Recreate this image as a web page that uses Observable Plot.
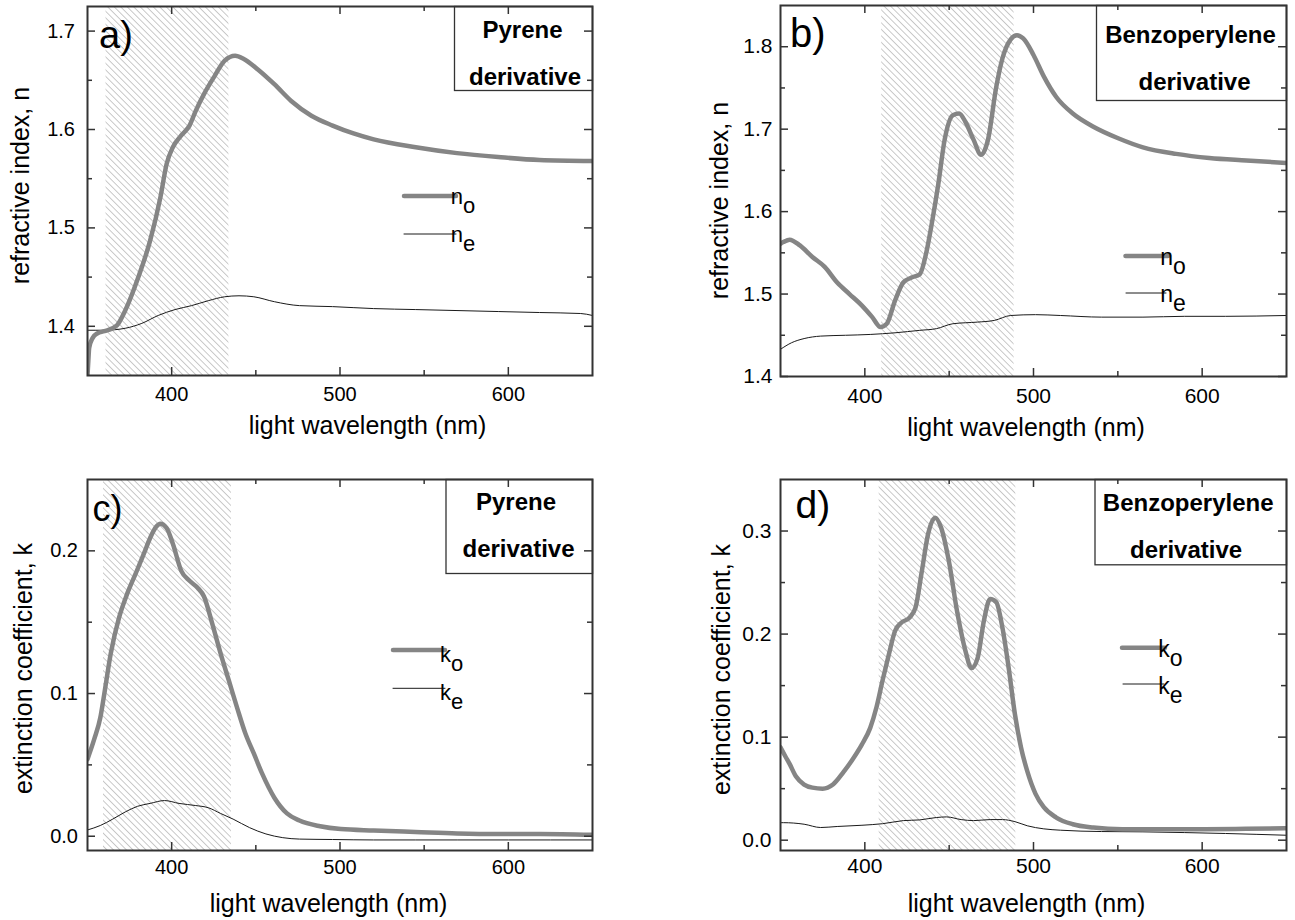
<!DOCTYPE html>
<html><head><meta charset="utf-8">
<script src="https://cdn.jsdelivr.net/npm/d3@7"></script>
<script src="https://cdn.jsdelivr.net/npm/@observablehq/plot@0.6"></script>
<style>
html,body{margin:0;padding:0;background:#fff;}
#root{position:relative;width:1295px;height:920px;overflow:hidden;font-family:"Liberation Sans",Arial,sans-serif;}
</style></head><body><div id="root"></div>
<script>
// ---------------- data ----------------
const xMajor = [400, 500, 600];
const xMinor = [450, 550];

// a) Pyrene derivative, refractive index
const aNoWl = [350, 350.5, 351, 353, 356, 360, 367.5, 372.4, 379.8, 387.2, 393.3, 397, 400.7, 405.7, 410.6, 414.3, 419.2, 425.4, 431.5, 437.7, 442.6, 451.2, 461, 471, 483, 495.6, 508, 520, 545, 569.5, 594, 618.5, 650];
const aNo = [1.35, 1.365, 1.378, 1.388, 1.393, 1.395, 1.401, 1.416, 1.448, 1.487, 1.531, 1.565, 1.582, 1.594, 1.604, 1.619, 1.636, 1.654, 1.670, 1.675, 1.672, 1.661, 1.646, 1.629, 1.614, 1.604, 1.596, 1.590, 1.582, 1.576, 1.572, 1.569, 1.568];
const aNeWl = [350, 360, 372.4, 382.3, 392, 402, 411.8, 421.7, 431.5, 440, 448.8, 461, 475.9, 495.6, 520, 545, 569.5, 594, 618.5, 643, 650];
const aNe = [1.396, 1.396, 1.398, 1.403, 1.411, 1.417, 1.421, 1.426, 1.430, 1.431, 1.430, 1.425, 1.421, 1.420, 1.418, 1.417, 1.416, 1.415, 1.414, 1.413, 1.411];

// b) Benzoperylene derivative, refractive index
const bNoWl = [350, 351.7, 355.4, 361.5, 368.9, 376.2, 383.6, 390.9, 398.3, 404.4, 409.3, 413, 417.9, 422.8, 427.7, 432.6, 436.3, 440, 443.6, 447.3, 452.2, 455.9, 459.6, 464.5, 468.9, 473, 477.9, 481.6, 486.5, 490.2, 493.9, 500, 506.1, 513.5, 523.3, 535.5, 550.2, 564.9, 584.6, 604.2, 626.2, 650];
const bNo = [1.561, 1.563, 1.566, 1.559, 1.545, 1.533, 1.514, 1.500, 1.486, 1.472, 1.460, 1.464, 1.492, 1.514, 1.520, 1.524, 1.549, 1.589, 1.634, 1.687, 1.717, 1.719, 1.709, 1.687, 1.669, 1.687, 1.751, 1.786, 1.809, 1.814, 1.810, 1.790, 1.764, 1.739, 1.719, 1.703, 1.689, 1.678, 1.670, 1.665, 1.662, 1.659];
const bNeWl = [350, 356.6, 364, 373.8, 388.5, 403.2, 417.9, 432.6, 442.4, 452.2, 466.9, 476.7, 486.5, 501.2, 515.9, 540.4, 564.9, 589.4, 613.9, 650];
const bNe = [1.433, 1.441, 1.446, 1.449, 1.450, 1.451, 1.453, 1.456, 1.458, 1.464, 1.466, 1.468, 1.474, 1.475, 1.474, 1.472, 1.472, 1.473, 1.473, 1.474];

// c) Pyrene derivative, extinction coefficient
const cKoWl = [350, 354, 357.6, 360, 363.8, 368.7, 373.6, 378.6, 383.5, 387.2, 390.9, 393.3, 397, 400.7, 405.7, 410.6, 415.5, 419.2, 424.1, 429.1, 434, 438.9, 443.8, 448.8, 453.7, 461, 468.5, 475.9, 488.2, 500.5, 520, 544.8, 569.5, 594, 618.7, 650];
const cKo = [0.054, 0.068, 0.083, 0.100, 0.128, 0.153, 0.170, 0.184, 0.198, 0.209, 0.217, 0.219, 0.216, 0.205, 0.186, 0.179, 0.174, 0.168, 0.149, 0.128, 0.109, 0.090, 0.072, 0.058, 0.044, 0.027, 0.016, 0.011, 0.007, 0.005, 0.004, 0.003, 0.002, 0.0016, 0.0016, 0.001];
const cKeWl = [350, 357.6, 365, 372.4, 379.8, 387.2, 395.8, 404.4, 414.3, 421.7, 429, 436.5, 446.3, 456, 466, 475.9, 495.6, 520, 545, 570, 600, 650];
const cKe = [0.0044, 0.0075, 0.012, 0.017, 0.021, 0.023, 0.025, 0.023, 0.0215, 0.020, 0.016, 0.012, 0.006, 0.0016, -0.001, -0.002, -0.0023, -0.0026, -0.0026, -0.0026, -0.0026, -0.0026];

// d) Benzoperylene derivative, extinction coefficient
const dKoWl = [350, 353, 355.4, 359.1, 364, 368.9, 375, 381.1, 387.3, 393.4, 398.3, 403.2, 406.9, 410.5, 414.2, 417.9, 421.6, 426.5, 430.1, 433.8, 437.5, 441.7, 445.3, 449.8, 454.7, 459.6, 463.2, 466.9, 470.6, 474.3, 477.9, 481.6, 485.3, 489, 492.6, 496.3, 501.2, 506.1, 513.5, 523.3, 535.5, 552.7, 577.2, 601.7, 626.2, 650];
const dKo = [0.090, 0.081, 0.074, 0.062, 0.054, 0.051, 0.050, 0.054, 0.066, 0.080, 0.093, 0.109, 0.129, 0.155, 0.180, 0.203, 0.211, 0.216, 0.226, 0.261, 0.297, 0.313, 0.303, 0.271, 0.222, 0.184, 0.167, 0.177, 0.213, 0.234, 0.231, 0.206, 0.167, 0.122, 0.090, 0.067, 0.045, 0.032, 0.022, 0.0155, 0.0123, 0.0107, 0.0107, 0.0107, 0.011, 0.0116];
const dKeWl = [350, 351.7, 364, 373.8, 383.6, 398.3, 410.5, 422.8, 432.6, 442.4, 448.5, 457.1, 464.5, 474.3, 481.6, 489, 496.3, 506.1, 515.9, 540.4, 564.9, 589.4, 613.9, 650];
const dKe = [0.017, 0.017, 0.0155, 0.0123, 0.0133, 0.0145, 0.016, 0.019, 0.0197, 0.022, 0.0226, 0.020, 0.019, 0.020, 0.020, 0.018, 0.014, 0.011, 0.0097, 0.0084, 0.0081, 0.0074, 0.0065, 0.0048];

// hatched (absorption) bands, nm
const hatchA = [361, 434];
const hatchB = [410, 488.5];
const hatchC = [359.5, 435.5];
const hatchD = [408.5, 489.5];

// texts
const xTitle = "light wavelength (nm)";
const yTitleN = "refractive index, n";
const yTitleK = "extinction coefficient, k";
const tags = ["a)", "b)", "c)", "d)"];
const boxLinesPyrene = ["Pyrene", "derivative"];
const boxLinesBenzo = ["Benzoperylene", "derivative"];
const legendN = [["n", "o"], ["n", "e"]];
const legendK = [["k", "o"], ["k", "e"]];

// ---------------- drawing ----------------
const FONT = '"Liberation Sans", Arial, sans-serif';
const root = document.getElementById("root");

function panel(p) {
  const fw = p.width - p.ml - p.mr, fh = p.height - p.mt - p.mb;
  const tk = {stroke: "#333", strokeWidth: 1.5};
  const hid = "hatch-" + p.id;
  const marks = [
    Plot.rect([p.hatch], {x1: d => d[0], x2: d => d[1], fill: `url(#${hid})`}),
    Plot.line(d3.zip(p.thinX, p.thinY), {x: d => d[0], y: d => d[1], stroke: "#1a1a1a", strokeWidth: 1, curve: "monotone-x", clip: true}),
    Plot.line(d3.zip(p.thickX, p.thickY), {x: d => d[0], y: d => d[1], stroke: "#858585", strokeWidth: 4.5, curve: "monotone-x", clip: true}),
    Plot.tickX(xMajor, {x: d => d, insetTop: fh - 8, ...tk}),
    Plot.tickX(xMajor, {x: d => d, insetBottom: fh - 8, ...tk}),
    Plot.tickX(xMinor, {x: d => d, insetTop: fh - 5, ...tk}),
    Plot.tickX(xMinor, {x: d => d, insetBottom: fh - 5, ...tk}),
    Plot.tickY(p.yMajor, {y: d => d, insetRight: fw - 8, ...tk}),
    Plot.tickY(p.yMajor, {y: d => d, insetLeft: fw - 8, ...tk}),
    Plot.tickY(p.yMinor, {y: d => d, insetRight: fw - 5, ...tk}),
    Plot.tickY(p.yMinor, {y: d => d, insetLeft: fw - 5, ...tk}),
    Plot.axisX({ticks: xMajor, tickSize: 0, tickPadding: p.xPad, fontSize: p.tickFont, tickFormat: d => String(d), label: null}),
    Plot.axisY({ticks: p.yMajor, tickSize: 0, tickPadding: p.yPad, fontSize: p.tickFont, tickFormat: d3.format(".1f"), label: null}),
    Plot.frame({stroke: "#333", strokeWidth: 2}),
    Plot.frame({insetLeft: p.boxL, insetBottom: p.boxB, stroke: "#333", strokeWidth: 1.3}),
    Plot.text([xTitle], {text: d => d, frameAnchor: "bottom", textAnchor: "middle", dx: p.xtDx, dy: p.xtDy, fontSize: 25, lineAnchor: "middle", fill: "#000"}),
    Plot.text([p.yTitle], {text: d => d, frameAnchor: "left", textAnchor: "middle", rotate: -90, dx: p.ytDx, dy: p.ytDy, fontSize: 25, lineAnchor: "middle", fill: "#000"}),
    Plot.text([p.tag], {text: d => d, frameAnchor: "top-left", textAnchor: "start", lineAnchor: "bottom", dx: p.tagDx, dy: p.tagDy, fontSize: p.tagFont, fill: "#000"}),
    Plot.text([p.box[0]], {text: d => d, frameAnchor: "top-right", textAnchor: "middle", lineAnchor: "middle", dx: p.b1[0], dy: p.b1[1], fontSize: 24, fontWeight: "bold", fill: "#000"}),
    Plot.text([p.box[1]], {text: d => d, frameAnchor: "top-right", textAnchor: "middle", lineAnchor: "middle", dx: p.b2[0], dy: p.b2[1], fontSize: 24, fontWeight: "bold", fill: "#000"})
  ];
  const svg = Plot.plot({
    width: p.width, height: p.height,
    marginLeft: p.ml, marginRight: p.mr, marginTop: p.mt, marginBottom: p.mb,
    x: {domain: [350, 650]},
    y: {domain: p.yDomain},
    style: {fontFamily: FONT, background: "transparent", color: "#000", overflow: "visible"},
    marks
  });
  // hatch pattern
  const s = d3.select(svg);
  const defs = s.insert("defs", ":first-child");
  const pat = defs.append("pattern").attr("id", hid).attr("patternUnits", "userSpaceOnUse")
    .attr("width", 4.6).attr("height", 4.6).attr("patternTransform", "rotate(-45)");
  pat.append("line").attr("x1", 2.3).attr("x2", 2.3).attr("y1", -1).attr("y2", 5.6)
    .attr("stroke", "#c4c4c4").attr("stroke-width", 0.9);
  // legend
  const lg = s.append("g").attr("font-family", FONT).attr("fill", "#000");
  p.legend.forEach((it, i) => {
    const L = p.leg[i];
    lg.append("line").attr("x1", L.x1).attr("x2", L.x2).attr("y1", L.y).attr("y2", L.y)
      .attr("stroke", i === 0 ? "#858585" : "#1a1a1a").attr("stroke-width", i === 0 ? 4.5 : 1)
      .attr("stroke-linecap", "round");
    const t = lg.append("text").attr("x", L.tx).attr("y", L.ty).attr("font-size", p.legFont);
    t.append("tspan").text(it[0]);
    t.append("tspan").attr("dy", 9).text(it[1]);
  });
  svg.style.position = "absolute";
  svg.style.left = p.left + "px";
  svg.style.top = p.top + "px";
  root.appendChild(svg);
}

panel({
  id: "a", left: 0, top: 0, width: 647, height: 460, ml: 87, mr: 55, mt: 6, mb: 85,
  yDomain: [1.35, 1.725], yMajor: [1.4, 1.5, 1.6, 1.7], yMinor: [1.45, 1.55, 1.65],
  thickX: aNoWl, thickY: aNo, thinX: aNeWl, thinY: aNe, hatch: hatchA,
  tickFont: 20, xPad: 11, yPad: 12.5,
  boxL: 367, boxB: 285, box: boxLinesPyrene, b1: [-70, 24], b2: [-67.5, 71],
  xtDx: 27.5, xtDy: 50, yTitle: yTitleN, ytDx: -67, ytDy: -5.5,
  tag: tags[0], tagDx: 11.5, tagDy: 41, tagFont: 38,
  legend: legendN, legFont: 22,
  leg: [{x1: 404, x2: 456, y: 196, tx: 463, ty: 204}, {x1: 404, x2: 456, y: 234, tx: 463, ty: 242}]
});
panel({
  id: "b", left: 647, top: 0, width: 648, height: 460, ml: 133, mr: 9, mt: 5, mb: 84,
  yDomain: [1.4, 1.85], yMajor: [1.4, 1.5, 1.6, 1.7, 1.8], yMinor: [1.45, 1.55, 1.65, 1.75],
  thickX: bNoWl, thickY: bNo, thinX: bNeWl, thinY: bNe, hatch: hatchB,
  tickFont: 21, xPad: 11.5, yPad: 8,
  boxL: 316, boxB: 276, box: boxLinesBenzo, b1: [-96, 30], b2: [-92, 77],
  xtDx: -7.5, xtDy: 51, yTitle: yTitleN, ytDx: -60.5, ytDy: 9.5,
  tag: tags[1], tagDx: 9.5, tagDy: 41, tagFont: 40,
  legend: legendN, legFont: 23,
  leg: [{x1: 478.5, x2: 521, y: 256, tx: 526, ty: 265}, {x1: 479, x2: 519, y: 293, tx: 526, ty: 302}]
});
panel({
  id: "c", left: 0, top: 460, width: 647, height: 460, ml: 87, mr: 55, mt: 19, mb: 70,
  yDomain: [-0.01, 0.25], yMajor: [0.0, 0.1, 0.2], yMinor: [0.05, 0.15],
  thickX: cKoWl, thickY: cKo, thinX: cKeWl, thinY: cKe, hatch: hatchC,
  tickFont: 20, xPad: 9.5, yPad: 9.5,
  boxL: 358.5, boxB: 277, box: boxLinesPyrene, b1: [-76.5, 22.7], b2: [-74, 70],
  xtDx: -11.5, xtDy: 53, yTitle: yTitleK, ytDx: -64, ytDy: 3.5,
  tag: tags[2], tagDx: 5, tagDy: 41, tagFont: 36,
  legend: legendK, legFont: 22,
  leg: [{x1: 393, x2: 445, y: 190, tx: 451.5, ty: 202}, {x1: 393, x2: 445, y: 228.3, tx: 451.5, ty: 240}]
});
panel({
  id: "d", left: 647, top: 460, width: 648, height: 460, ml: 133, mr: 9, mt: 19, mb: 70,
  yDomain: [-0.01, 0.35], yMajor: [0.0, 0.1, 0.2, 0.3], yMinor: [0.05, 0.15, 0.25],
  thickX: dKoWl, thickY: dKo, thinX: dKeWl, thinY: dKe, hatch: hatchD,
  tickFont: 21, xPad: 7.5, yPad: 9,
  boxL: 314.5, boxB: 285.7, box: boxLinesBenzo, b1: [-98.3, 24], b2: [-100.4, 71],
  xtDx: -7, xtDy: 53, yTitle: yTitleK, ytDx: -58.5, ytDy: 4.5,
  tag: tags[3], tagDx: 15, tagDy: 38, tagFont: 39,
  legend: legendK, legFont: 23,
  leg: [{x1: 475, x2: 518, y: 187.7, tx: 523.3, ty: 197}, {x1: 476, x2: 517, y: 224, tx: 523.3, ty: 234}]
});
</script>
</body></html>
